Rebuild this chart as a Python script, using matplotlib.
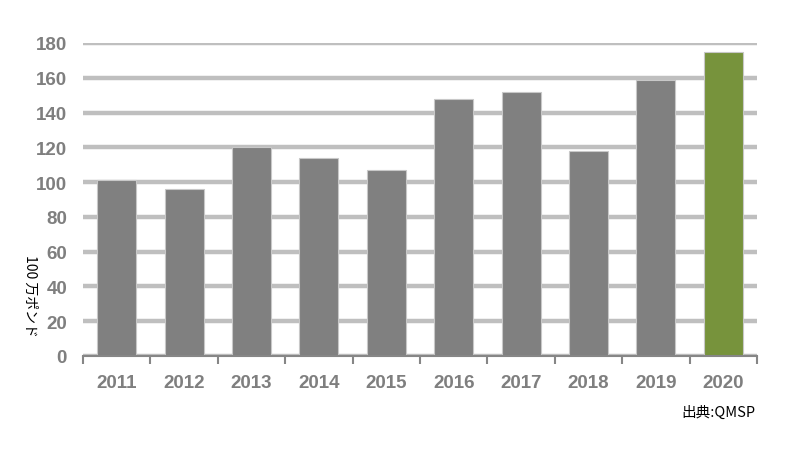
import matplotlib
matplotlib.use("Agg")
import matplotlib.pyplot as plt
import numpy as np

years = ["2011", "2012", "2013", "2014", "2015", "2016", "2017", "2018", "2019", "2020"]
values = [101, 96, 120, 114, 107, 148, 152, 118, 159, 175]
bar_colors = ["#808080"] * 9 + ["#77933C"]
yticks = [0, 20, 40, 60, 80, 100, 120, 140, 160, 180]

fig = plt.figure(figsize=(8, 4.6), dpi=100)
ax = fig.add_axes([83 / 800, 1 - 357 / 460, 674 / 800, 313 / 460])

x = np.arange(len(years))
ax.bar(x, values, width=0.58, color=bar_colors, edgecolor="#c8c8c8", linewidth=0.8, zorder=3)

ax.set_xlim(-0.5, len(years) - 0.5)
ax.set_ylim(0, 180)
ax.set_yticks(yticks)
ax.yaxis.grid(True, color="#bfbfbf", linewidth=3.2, zorder=0)
ax.set_axisbelow(True)

for s in ["top", "right", "left"]:
    ax.spines[s].set_visible(False)
ax.spines["bottom"].set_color("#868686")
ax.spines["bottom"].set_linewidth(1.5)
ax.spines["bottom"].set_zorder(4)

ax.set_xticks(x)
ax.set_xticklabels(years)
ax.set_xticks(np.arange(-0.5, len(years)), minor=True)
ax.tick_params(axis="x", which="major", length=0, pad=13)
ax.tick_params(axis="x", which="minor", length=6, width=1.5, color="#868686")
ax.tick_params(axis="y", length=0, pad=11.5)

for lab in ax.get_xticklabels() + ax.get_yticklabels():
    lab.set_fontfamily("Liberation Sans")
    lab.set_fontweight("bold")
    lab.set_fontsize(13.5)
    lab.set_color("#7f7f7f")

fig.text(30 / 800, 1 - 296 / 460, "100 万ポンド", rotation=-90, ha="center", va="center",
         fontsize=10, family=["Noto Sans CJK JP", "DejaVu Sans"], color="#000000")
fig.text(755 / 800, 1 - 413 / 460, "出典:QMSP", ha="right", va="center",
         fontsize=10.5, family=["Noto Sans CJK JP", "DejaVu Sans"], color="#000000")

fig.savefig("out.png", dpi=100)
